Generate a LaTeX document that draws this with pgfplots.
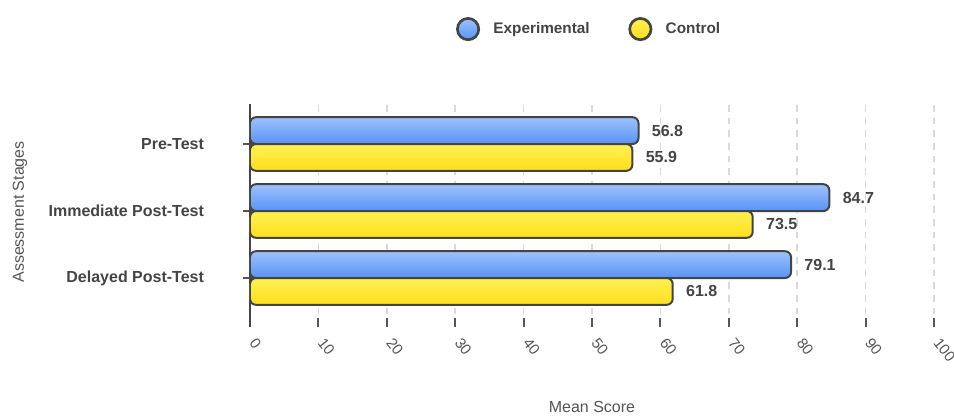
\documentclass[border=0pt]{standalone}
\usepackage{pgfplots}
\pgfplotsset{compat=1.18}
\usepackage{fontspec}
\setmainfont{Liberation Sans}
\definecolor{txt}{HTML}{444444}
\definecolor{tickc}{HTML}{555555}
\definecolor{blueT}{HTML}{9DC2FD}
\definecolor{blueB}{HTML}{5893F5}
\definecolor{blueL}{HTML}{9CC0FF}
\definecolor{yelT}{HTML}{FFF052}
\definecolor{yelB}{HTML}{FFDF1C}
\definecolor{yelL}{HTML}{FFEB5A}
\definecolor{outl}{HTML}{444444}
\definecolor{gridc}{HTML}{DADADA}
\pgfplotsset{
  expbar/.style={bar shift=0.2, draw=outl, line width=1.5pt, top color=blueT, bottom color=blueB, rounded corners=4.5pt,
    legend image code/.code={\draw[draw=outl, line width=2pt, fill=blueL] (0,0) circle (8pt);}},
  conbar/.style={bar shift=-0.2, draw=outl, line width=1.5pt, top color=yelT, bottom color=yelB, rounded corners=4.5pt,
    legend image code/.code={\draw[draw=outl, line width=2pt, fill=yelL] (0,0) circle (8pt);}},
}
\begin{document}
\begin{tikzpicture}[x=1pt,y=1pt]
\path[use as bounding box] (-187.5,-66) rectangle (528,245.25);
\begin{axis}[
  at={(0,0)}, anchor=south west,
  scale only axis, width=513pt, height=167.25pt,
  xbar,
  xmin=0, xmax=100,
  ymin=-0.731, ymax=2.597,
  bar width=0.4,
  xtick={0,10,...,100},
  ytick={0,1,2},
  yticklabels={Delayed Post-Test, Immediate Post-Test, Pre-Test},
  axis y line*=left, axis x line*=bottom,
  axis line style={-},
  x axis line style={draw=none},
  y axis line style={draw=outl, line width=1.5pt},
  tick align=inside,
  major tick length=6.75pt,
  xtick style={color=tickc, line width=1.5pt},
  ytick style={color=tickc, line width=1.5pt, xshift=-5.5pt},
  xmajorgrids,
  major x grid style={color=gridc, line width=1.2pt, dash pattern=on 5pt off 4.5pt},
  /pgf/number format/assume math mode=true,
  xticklabel style={font=\fontsize{11.25}{13}\selectfont, color=tickc, yshift=-7pt, rotate=-52, anchor=west},
  yticklabel style={font=\bfseries\fontsize{12}{14}\selectfont, color=txt, xshift=-31pt},
  xlabel={Mean Score},
  ylabel={Assessment Stages},
  xlabel style={at={(axis description cs:0.5,-0.3587)}, anchor=center, font=\fontsize{12}{14}\selectfont, color=tickc},
  ylabel style={at={(axis description cs:-0.3363,0.516)}, anchor=center, rotate=0, font=\fontsize{12}{14}\selectfont, color=tickc},
  nodes near coords,
  nodes near coords style={font=\bfseries\fontsize{12}{14}\selectfont, color=txt, anchor=west, xshift=6pt,
    /pgf/number format/.cd, fixed, precision=1, fixed zerofill},
  legend style={draw=none, fill=none, at={(0.4963,1.336)}, anchor=center, legend columns=2,
    font=\bfseries\fontsize{11.5}{13}\selectfont, text=txt,
    /tikz/every odd column/.append style={column sep=8pt},
    /tikz/every even column/.append style={column sep=27pt}},
]
% Experimental
\addplot[expbar] coordinates {(56.8,2)};
\addlegendentry{Experimental}
% Control
\addplot[conbar] coordinates {(55.9,2)};
\addlegendentry{Control}
\addplot[expbar, forget plot] coordinates {(84.7,1)};
\addplot[expbar, forget plot] coordinates {(79.1,0)};
\addplot[conbar, forget plot] coordinates {(73.5,1)};
\addplot[conbar, forget plot] coordinates {(61.8,0)};
\end{axis}
\end{tikzpicture}
\end{document}
